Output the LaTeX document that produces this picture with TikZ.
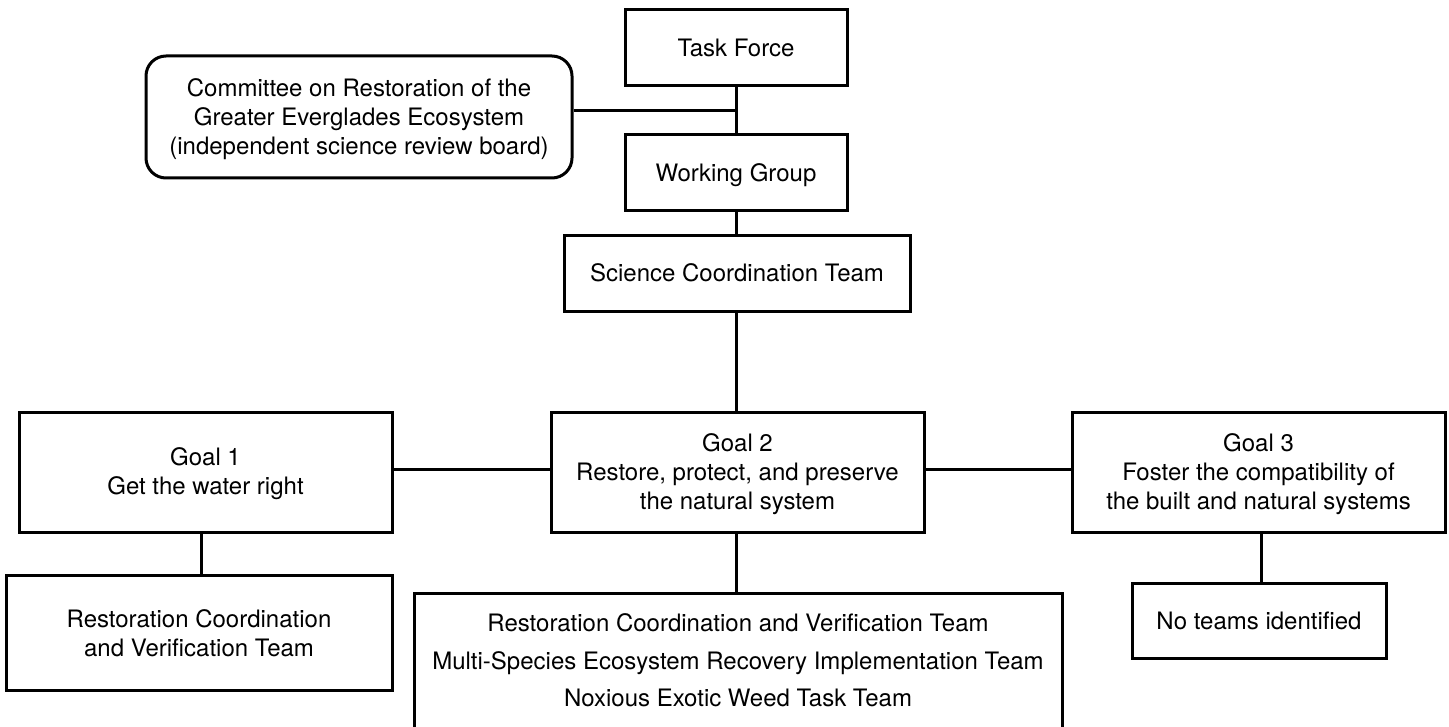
\documentclass[tikz,border=0pt]{standalone}
\usepackage{fontspec}
\setmainfont{TeX Gyre Heros}
\newcommand{\topstrut}{\rule{0pt}{11pt}}
\begin{document}
\begin{tikzpicture}[x=0.5pt,y=-0.5pt,
  box/.style={draw, line width=1.5pt, inner sep=0pt, align=center,
    font=\fontsize{12}{14.5}\selectfont},
  oneline/.style={text height=8.6pt, text depth=0pt},
  link/.style={line width=1.5pt}]
\fill[white] (0,0) rectangle (1449,727);
\useasboundingbox (0,0) rectangle (1449,727);

\node[box, oneline, minimum width=111pt, minimum height=38pt] (tf) at (736,48) {Task Force};
\node[box, oneline, minimum width=111pt, minimum height=38pt] (wg) at (736,173) {Working Group};
\node[box, oneline, minimum width=173pt, minimum height=38pt] (sct) at (737,273) {Science Coordination Team};
\node[box, rounded corners=10pt, minimum width=213pt, minimum height=61pt] (comm) at (359,117)
  {\topstrut Committee on Restoration of the\\Greater Everglades Ecosystem\\(independent science review board)};

\node[box, minimum width=186.5pt, minimum height=60pt] (g1) at (205.5,472) {\topstrut Goal 1\\Get the water right};
\node[box, minimum width=186.5pt, minimum height=60pt] (g2) at (737.5,472) {\topstrut Goal 2\\Restore, protect, and preserve\\the natural system};
\node[box, minimum width=186.5pt, minimum height=60pt] (g3) at (1258.5,472) {\topstrut Goal 3\\Foster the compatibility of\\the built and natural systems};

\node[box, minimum width=193pt, minimum height=57.5pt] (r1) at (199,632.5) {\rule{0pt}{10pt}Restoration Coordination\\and Verification Team};
\node[box, anchor=north, minimum width=324pt] (t2) at (738,592)
  {\rule{0pt}{19pt}Restoration Coordination and Verification Team\\[4.25pt]
   Multi-Species Ecosystem Recovery Implementation Team\\[4.25pt]
   Noxious Exotic Weed Task Team\rule[-100pt]{0pt}{100pt}};
\node[box, oneline, minimum width=127pt, minimum height=37.5pt] (nt) at (1259,620.5) {No teams identified};

\coordinate (cx) at (736,0);
\coordinate (j1) at (736,111);
\coordinate (hy) at (0,469);
\coordinate (c1) at (201,0);
\coordinate (c3) at (1261,0);

\draw[link] (cx |- tf.south) -- (cx |- wg.north);
\draw[link] (comm.east |- j1) -- (j1);
\draw[link] (cx |- wg.south) -- (cx |- sct.north);
\draw[link] (cx |- sct.south) -- (cx |- g2.north);
\draw[link] (g1.east |- hy) -- (g2.west |- hy);
\draw[link] (g2.east |- hy) -- (g3.west |- hy);
\draw[link] (c1 |- g1.south) -- (c1 |- r1.north);
\draw[link] (cx |- g2.south) -- (cx |- t2.north);
\draw[link] (c3 |- g3.south) -- (c3 |- nt.north);
\end{tikzpicture}
\end{document}
